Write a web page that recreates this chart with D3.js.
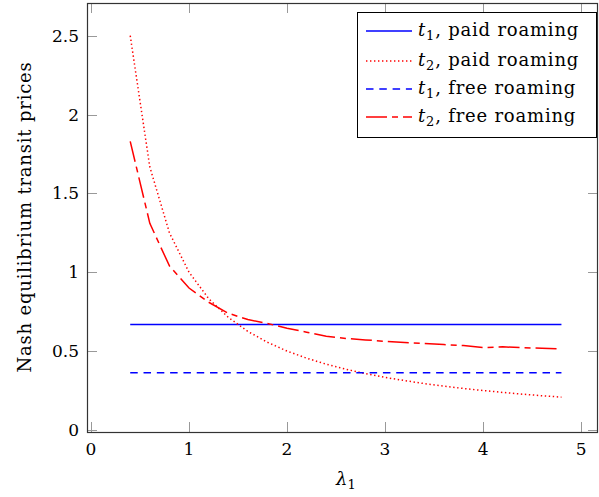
<!DOCTYPE html>
<html><head><meta charset="utf-8">
<script src="https://cdn.jsdelivr.net/npm/d3@7"></script>
<style>body{margin:0;background:#fff}svg{display:block}text{font-family:"DejaVu Serif",serif;fill:#000}</style>
</head><body><svg id="c" width="599" height="497"></svg>
<script>
const lambda = [0.4,0.6,0.8,1.0,1.2,1.4,1.6,1.8,2.0,2.2,2.4,2.6,2.8,3.0,3.2,3.4,3.6,3.8,4.0,4.2,4.4,4.6,4.8];
const t1Paid = [0.669,0.669,0.669,0.669,0.669,0.669,0.669,0.669,0.669,0.669,0.669,0.669,0.669,0.669,0.669,0.669,0.669,0.669,0.669,0.669,0.669,0.669,0.669];
const t2Paid = [2.5,1.667,1.25,1.0,0.833,0.714,0.625,0.556,0.5,0.455,0.417,0.385,0.357,0.333,0.313,0.294,0.278,0.263,0.25,0.238,0.227,0.217,0.208];
const t1Free = [0.363,0.363,0.363,0.363,0.363,0.363,0.363,0.363,0.363,0.363,0.363,0.363,0.363,0.363,0.363,0.363,0.363,0.363,0.363,0.363,0.363,0.363,0.363];
const t2Free = [1.83,1.31,1.04,0.90,0.81,0.74,0.70,0.675,0.645,0.62,0.594,0.58,0.571,0.562,0.554,0.548,0.541,0.535,0.522,0.527,0.522,0.518,0.514];
const xTicks = [0,1,2,3,4,5];
const yTicks = [0,0.5,1,1.5,2,2.5];
const legendLabels = [["t","1",", paid roaming"],["t","2",", paid roaming"],["t","1",", free roaming"],["t","2",", free roaming"]];

const svg = d3.select("#c");
const L=87, R=598, T=3, B=432;
const x = d3.scaleLinear().domain([-0.041, 5.173]).range([L,R]);
const y = d3.scaleLinear().domain([-0.013, 2.707]).range([B,T]);
const FS = 18, TFS = 17, SUB = 13, LS = 0.8;

const series = [
  {v:t1Paid, color:"#0000ff", dash:null},
  {v:t2Paid, color:"#ff0000", dash:"1.4,2.6"},
  {v:t1Free, color:"#0000ff", dash:"7.5,5.8"},
  {v:t2Free, color:"#ff0000", dash:"21,5,6,5"}
];

const tg = svg.append("g").attr("stroke","#999").attr("stroke-width",1);
xTicks.forEach(t=>{
  const px = Math.round(x(t))+0.5;
  tg.append("line").attr("x1",px).attr("x2",px).attr("y1",B).attr("y2",B-10);
  tg.append("line").attr("x1",px).attr("x2",px).attr("y1",T).attr("y2",T+10);
});
yTicks.forEach(t=>{
  const py = Math.round(y(t))+0.5;
  tg.append("line").attr("x1",L).attr("x2",L+10).attr("y1",py).attr("y2",py);
  tg.append("line").attr("x1",R).attr("x2",R-10).attr("y1",py).attr("y2",py);
});

const line = d3.line().x((d,i)=>x(lambda[i])).y(d=>y(d));
series.forEach(s=>{
  svg.append("path").attr("d",line(s.v)).attr("fill","none").attr("stroke",s.color)
    .attr("stroke-width",1.5).attr("stroke-dasharray",s.dash);
});

svg.append("rect").attr("x",L+0.5).attr("y",T+0.5).attr("width",R-L-1).attr("height",B-T)
  .attr("fill","none").attr("stroke","#333").attr("stroke-width",1.2);

const fmt = d=>String(d);
xTicks.forEach(t=>{
  svg.append("text").attr("x",x(t)).attr("y",455).attr("text-anchor","middle").attr("font-size",TFS).text(fmt(t));
});
yTicks.forEach(t=>{
  svg.append("text").attr("x",79).attr("y",y(t)+6).attr("text-anchor","end").attr("font-size",TFS).text(fmt(t));
});

const xt = svg.append("text").attr("x",336).attr("y",485).attr("font-size",FS);
xt.append("tspan").attr("font-style","italic").text("λ");
xt.append("tspan").attr("font-size",SUB).attr("dy",4).text("1");
svg.append("text").attr("transform","translate(31,217) rotate(-90)").attr("text-anchor","middle")
  .attr("font-size",FS).attr("letter-spacing",LS).text("Nash equilibrium transit prices");

const lg = svg.append("g");
lg.append("rect").attr("x",357.5).attr("y",12.5).attr("width",239).attr("height",125)
  .attr("fill","#fff").attr("stroke","#000").attr("stroke-width",1);
const rows=[31,61,89,117];
series.forEach((s,i)=>{
  lg.append("line").attr("x1",366).attr("x2",412).attr("y1",rows[i]).attr("y2",rows[i])
    .attr("stroke",s.color).attr("stroke-width",1.5).attr("stroke-dasharray",s.dash);
  const tx = lg.append("text").attr("x",418).attr("y",rows[i]+5).attr("font-size",FS).attr("letter-spacing",LS);
  tx.append("tspan").attr("font-style","italic").text(legendLabels[i][0]);
  tx.append("tspan").attr("font-size",SUB).attr("dy",4).text(legendLabels[i][1]);
  tx.append("tspan").attr("dy",-4).text(legendLabels[i][2]);
});
</script></body></html>
